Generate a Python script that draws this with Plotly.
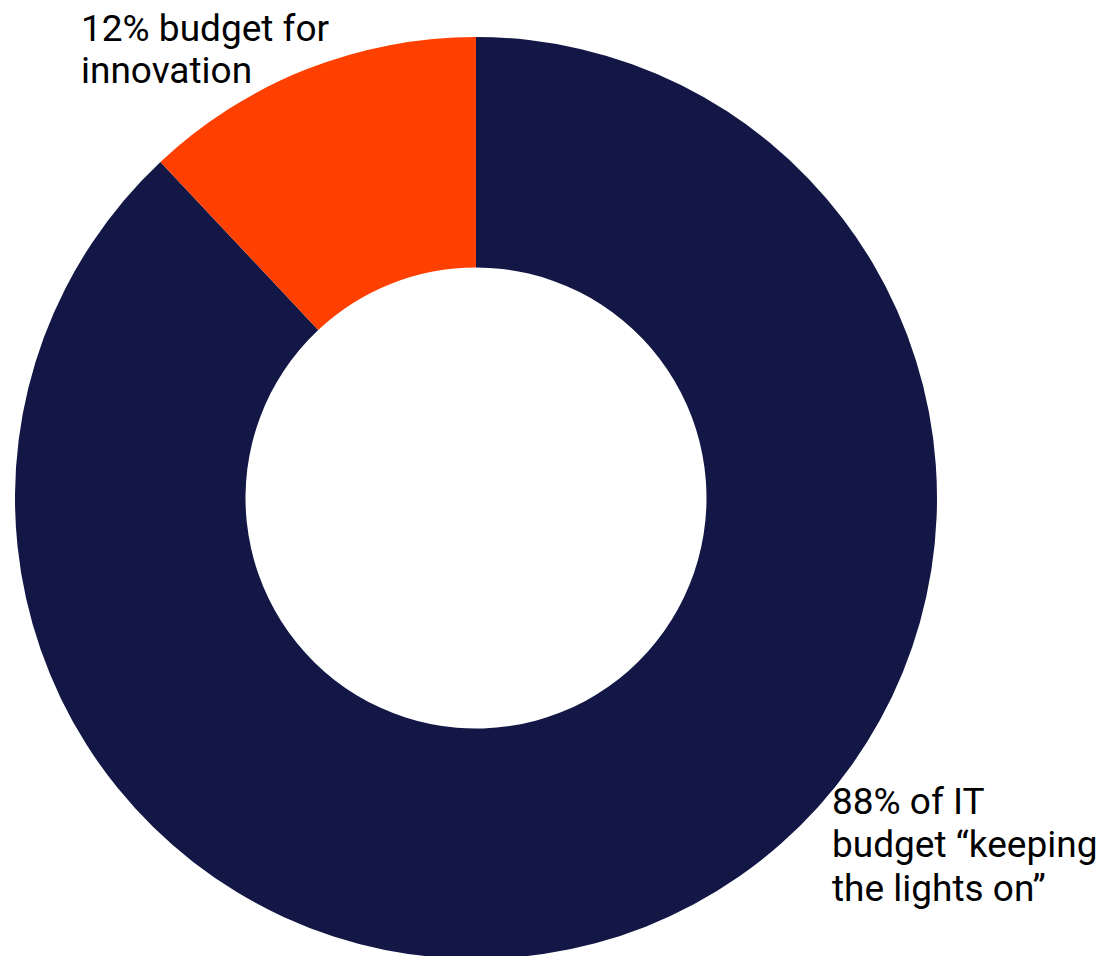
import plotly.graph_objects as go

W, H = 1104, 956
OFF = 8  # default page body margin

categories = ["88% of IT budget “keeping the lights on”", "12% budget for innovation"]
values = [88, 12]
colors = ["#131746", "#FF4000"]

label_lines_innovation = ["12% budget for", "innovation"]
label_lines_lights = ["88% of IT", "budget “keeping", "the lights on”"]

def px(x):
    return (x - OFF) / W

def py(y):
    return 1 - (y - OFF) / H

cx, cy, r = 476, 498, 461
fig = go.Figure(go.Pie(
    labels=categories,
    values=values,
    marker=dict(colors=colors, line=dict(width=0)),
    hole=0.5,
    sort=False,
    direction="clockwise",
    rotation=0,
    textinfo="none",
    hoverinfo="label+percent",
    showlegend=False,
    domain=dict(x=[px(cx - r), px(cx + r)], y=[py(cy + r), py(cy - r)]),
))

font = dict(family="Roboto, sans-serif", size=37, color="#000000")
annotations = []
for i, line in enumerate(label_lines_innovation):
    annotations.append(dict(text=line, x=px(79), y=py(29 + i * 42), xref="paper", yref="paper",
                            xanchor="left", yanchor="middle", showarrow=False, font=font))
for i, line in enumerate(label_lines_lights):
    annotations.append(dict(text=line, x=px(830), y=py(801 + i * 43.5), xref="paper", yref="paper",
                            xanchor="left", yanchor="middle", showarrow=False, font=font))

fig.update_layout(
    width=W, height=H,
    margin=dict(l=0, r=0, t=0, b=0),
    paper_bgcolor="white",
    plot_bgcolor="white",
    annotations=annotations,
)

fig.write_html("out.html")
